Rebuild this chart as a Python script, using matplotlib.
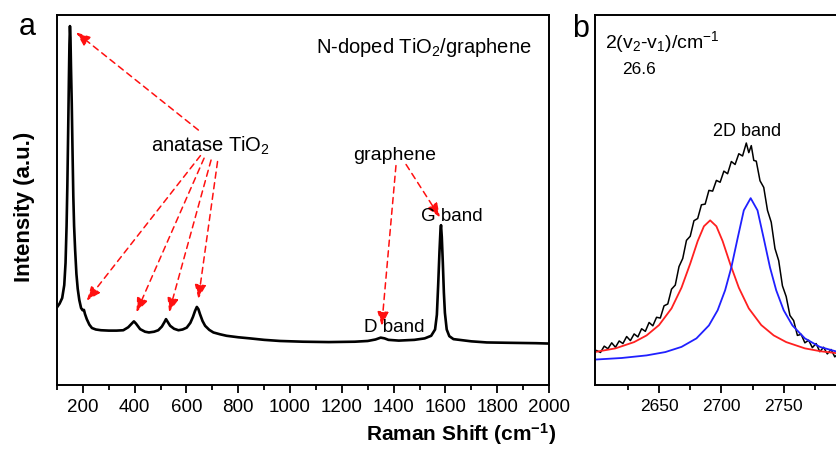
import matplotlib
matplotlib.use("Agg")
import matplotlib.pyplot as plt
from matplotlib.ticker import FixedLocator

plt.rcParams['font.family'] = ['Liberation Sans', 'DejaVu Sans']
plt.rcParams['mathtext.fontset'] = 'custom'
plt.rcParams['mathtext.rm'] = 'Liberation Sans'
plt.rcParams['mathtext.it'] = 'Liberation Sans:italic'
plt.rcParams['mathtext.bf'] = 'Liberation Sans:bold'

# ---------------- data: panel a (Raman spectrum) ----------------
raman_shift = [100, 110, 120, 128, 133, 137, 140, 143, 146, 148, 150, 152, 154, 157,
               160, 163, 166, 170, 175, 180, 186, 193, 199, 204, 208, 215, 225, 235,
               250, 270, 300, 330, 356, 375, 390, 397, 405, 421, 440, 455, 475, 491,
               505, 515, 521, 528, 537, 552, 569, 585, 601, 615, 625, 633, 640, 646,
               652, 662, 672, 688, 704, 730, 755, 800, 845, 900, 961, 1050, 1150, 1250,
               1300, 1330, 1350, 1365, 1380, 1420, 1480, 1520, 1545, 1560, 1567, 1572,
               1577, 1581, 1583, 1586, 1590, 1594, 1598, 1605, 1615, 1631, 1700, 1760,
               1850, 1950, 2000]
intensity = [21.0, 22.0, 23.5, 27, 33, 43, 54, 68, 83, 92, 97, 94, 86, 76,
             63, 51, 43, 36.5, 30, 26, 23, 20.8, 20.2, 20.3, 19.2, 17.8, 16.3, 15.4,
             15.0, 14.8, 14.7, 14.7, 14.8, 15.6, 16.7, 17.2, 16.6, 15.1, 14.4, 14.2, 14.4, 14.8,
             15.8, 17.0, 17.8, 17.0, 16.0, 15.2, 14.8, 15.0, 15.5, 16.8, 18.4, 20.0, 21.1, 20.5,
             19.2, 17.3, 16.0, 14.9, 14.2, 13.7, 13.3, 12.9, 12.6, 12.2, 11.9, 11.7, 11.6, 11.7,
             11.9, 12.3, 12.8, 12.6, 12.2, 12.0, 12.2, 12.6, 13.3, 15.0, 19, 27,
             36, 42, 43.2, 40, 33, 25, 19.5, 15.0, 13.2, 12.4, 11.8, 11.5,
             11.4, 11.3, 11.2]

# ---------------- data: panel b (2D band) ----------------
band2d_shift = [2600, 2603, 2606, 2609, 2612, 2615, 2618, 2621, 2624, 2627, 2630, 2633,
                2636, 2639, 2642, 2645, 2648, 2651, 2654, 2657, 2660, 2663, 2666, 2669,
                2672, 2675, 2678, 2681, 2684, 2687, 2690, 2693, 2696, 2699, 2702, 2705,
                2708, 2711, 2714, 2717, 2720, 2722, 2724, 2726, 2728, 2731, 2734, 2737,
                2740, 2743, 2746, 2749, 2752, 2755, 2758, 2761, 2764, 2767, 2770, 2773,
                2776, 2779, 2782, 2785, 2788, 2791, 2794]
band2d_intensity = [9.3, 8.8, 10.5, 9.8, 11.4, 10.2, 11.9, 11.2, 13.1, 12.0, 13.8, 13.0,
                    15.2, 14.5, 16.9, 16.0, 18.3, 18.1, 21.4, 21.9, 25.9, 27.0, 32.0, 34.2,
                    39.1, 40.2, 44.4, 45.0, 48.7, 48.9, 52.6, 52.4, 55.3, 54.8, 57.8, 57.1,
                    60.4, 59.6, 62.5, 61.9, 65.4, 62.8, 64.7, 60.7, 60.5, 55.2, 53.4, 47.2,
                    44.0, 36.9, 33.6, 26.8, 23.9, 18.8, 17.4, 13.4, 13.7, 11.4, 12.1, 10.1,
                    11.2, 9.0, 10.2, 8.4, 9.6, 7.6, 8.6]

fit1_shift = [2600, 2615, 2630, 2640, 2650, 2660, 2668, 2675, 2681, 2686, 2691, 2696,
              2701, 2707, 2714, 2722, 2732, 2742, 2752, 2767, 2780, 2795]
fit1_intensity = [9.0, 9.9, 11.6, 13.4, 16.2, 20.7, 26.3, 32.8, 38.9, 42.9, 44.5, 42.9,
                  38.9, 32.8, 26.3, 20.7, 16.2, 13.4, 11.6, 9.9, 9.1, 8.5]

fit2_shift = [2600, 2620, 2640, 2655, 2668, 2680, 2690, 2697, 2703, 2708, 2713, 2718,
              2723.5, 2729, 2734, 2739, 2744, 2750, 2757, 2767, 2779, 2795]
fit2_intensity = [6.9, 7.3, 8.0, 8.9, 10.3, 12.6, 16.1, 20.2, 25.6, 31.8, 39.6, 47.2,
                  50.5, 47.2, 39.6, 31.8, 25.6, 20.2, 16.1, 12.6, 10.3, 8.8]

a_major = [200, 400, 600, 800, 1000, 1200, 1400, 1600, 1800, 2000]
a_minor = [100, 300, 500, 700, 900, 1100, 1300, 1500, 1700, 1900]
b_major = [2650, 2700, 2750]
b_minor = [2625, 2675, 2725, 2775]

# ---------------- figure ----------------
W, H = 837, 449
fig = plt.figure(figsize=(W / 100, H / 100), dpi=100)

def fx(px):
    return px / W

def fy(py):
    return 1 - py / H

ax = fig.add_axes([fx(57), fy(385), fx(549) - fx(57), fy(15) - fy(385)])
axb = fig.add_axes([fx(595.5), fy(385), fx(846) - fx(595.5), fy(15) - fy(385)])

for a in (ax, axb):
    for s in a.spines.values():
        s.set_linewidth(1.4)
    a.set_yticks([])
    a.set_ylim(0, 100)
    a.tick_params(axis='x', which='major', direction='out', length=6, width=1.3, pad=4)
    a.tick_params(axis='x', which='minor', direction='out', length=3.5, width=1.3)

# panel a
ax.plot(raman_shift, intensity, color='black', lw=1.9)
ax.set_xlim(100, 2000)
ax.xaxis.set_major_locator(FixedLocator(a_major))
ax.xaxis.set_minor_locator(FixedLocator(a_minor))
ax.tick_params(axis='x', labelsize=13.5)

red = '#ff1010'
arrow_kw = dict(arrowstyle='-|>,head_length=0.65,head_width=0.26', color=red, lw=1.1,
                linestyle=(0, (4, 3)), mutation_scale=13, shrinkA=0, shrinkB=0)
arrows_a = [((646, 68.9), (174, 95.3)),
            ((654, 62.0), (215, 22.8)),
            ((668, 61.3), (407, 19.7)),
            ((695, 60.8), (533, 19.7)),
            ((720, 60.4), (646, 23.3)),
            ((1409, 59.3), (1354, 16.0)),
            ((1448, 59.6), (1579, 45.3))]
for start, end in arrows_a:
    ax.annotate('', xy=end, xytext=start, arrowprops=arrow_kw)

ax.text(1516, 89.6, r'N-doped TiO$_2$/graphene', ha='center', va='baseline', fontsize=14.5)
ax.text(694, 63.1, r'anatase TiO$_2$', ha='center', va='baseline', fontsize=14.5)
ax.text(1405, 60.7, 'graphene', ha='center', va='baseline', fontsize=14)
ax.text(1624, 44.4, 'G band', ha='center', va='baseline', fontsize=13.5)
ax.text(1402, 14.2, 'D band', ha='center', va='baseline', fontsize=13.5)

# panel b
axb.plot(band2d_shift, band2d_intensity, color='black', lw=1.1)
axb.plot(fit1_shift, fit1_intensity, color='#ff2020', lw=1.3)
axb.plot(fit2_shift, fit2_intensity, color='#2020ff', lw=1.3)
axb.set_xlim(2599, 2800)
axb.xaxis.set_major_locator(FixedLocator(b_major))
axb.xaxis.set_minor_locator(FixedLocator(b_minor))
axb.tick_params(axis='x', labelsize=12.5)
axb.text(2607, 91.0, r'2(v$_2$-v$_1$)/cm$^{-1}$', ha='left', va='baseline', fontsize=14)
axb.text(2620.6, 84.0, '26.6', ha='left', va='baseline', fontsize=12.5)
axb.text(2721, 67.3, '2D band', ha='center', va='baseline', fontsize=13)

# panel letters and axis labels
fig.text(fx(19), fy(35), 'a', fontsize=22, ha='left', va='baseline')
fig.text(fx(572), fy(37), 'b', fontsize=22, ha='left', va='baseline')
fig.text(fx(461), fy(441), r'Raman Shift (cm$^{\mathbf{-1}}$)', fontsize=15,
         fontweight='bold', ha='center', va='baseline')
fig.text(fx(25), fy(207), 'Intensity (a.u.)', fontsize=16, fontweight='bold',
         rotation=90, ha='center', va='center')

fig.savefig('out.png', dpi=100)
